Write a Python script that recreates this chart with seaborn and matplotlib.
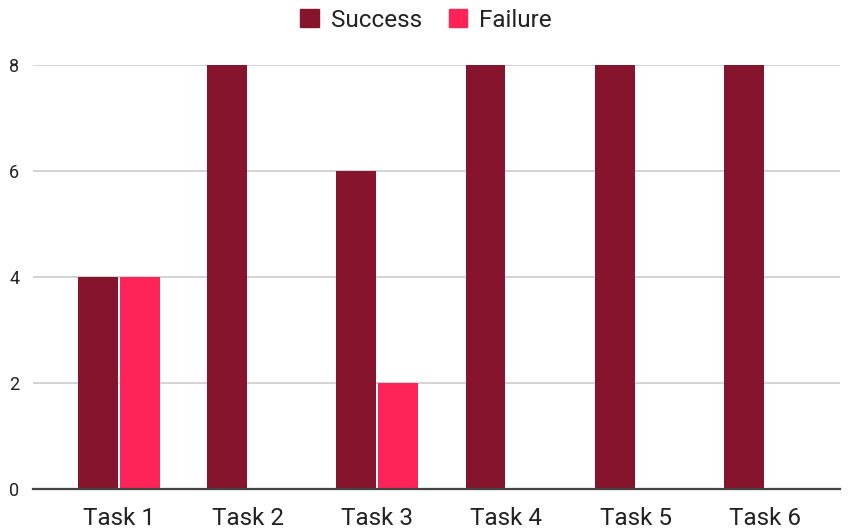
import pandas as pd
import matplotlib.pyplot as plt
import seaborn as sns

tasks = ["Task 1", "Task 2", "Task 3", "Task 4", "Task 5", "Task 6"]
success = [4, 8, 6, 8, 8, 8]
failure = [4, 0, 2, 0, 0, 0]

data = pd.DataFrame({
    "Task": tasks * 2,
    "Result": ["Success"] * len(tasks) + ["Failure"] * len(tasks),
    "Count": success + failure,
})

sns.set_style("white")
plt.rcParams["font.family"] = ["Roboto", "DejaVu Sans"]

fig = plt.figure(figsize=(8.52, 5.29), dpi=100)
ax = fig.add_axes([0.039, 0.0756, 0.947, 0.8015])

palette = {"Success": "#85142c", "Failure": "#ff2457"}
sns.barplot(data=data, x="Task", y="Count", hue="Result", palette=palette,
            width=0.65, gap=0.05, ax=ax, saturation=1, legend=False, linewidth=0)

ax.set_xlim(-0.66, 5.58)
ax.set_ylim(0, 8)
ax.set_yticks([0, 2, 4, 6, 8])
ax.yaxis.grid(True, color="#cccccc", linewidth=1.2)
ax.set_axisbelow(True)
for side in ["top", "right", "left"]:
    ax.spines[side].set_visible(False)
ax.spines["bottom"].set_color("#444444")
ax.spines["bottom"].set_linewidth(1.6)
ax.set_xlabel("")
ax.set_ylabel("")
ax.tick_params(axis="x", length=0, labelsize=17.5, pad=13, labelcolor="#222222")
ax.tick_params(axis="y", length=0, labelsize=13, pad=10, labelcolor="#222222")

handles = [plt.Rectangle((0, 0), 1, 1, color=palette[k]) for k in ["Success", "Failure"]]
fig.legend(handles, ["Success", "Failure"], loc="upper center", bbox_to_anchor=(0.5, 1.025),
           ncol=2, frameon=False, fontsize=17.5, handlelength=0.75, handleheight=0.75,
           handletextpad=0.5, columnspacing=1.1, labelcolor="#222222")

plt.savefig("out.png", dpi=100)
